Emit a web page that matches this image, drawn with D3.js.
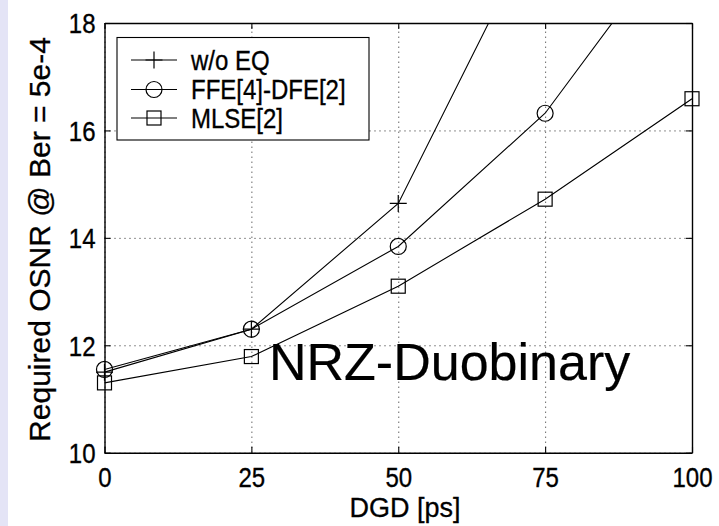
<!DOCTYPE html>
<html>
<head>
<meta charset="utf-8">
<script src="https://cdn.jsdelivr.net/npm/d3@7/dist/d3.min.js"></script>
<style>
  html, body { margin: 0; padding: 0; background: #fff; }
  svg { display: block; }
  text { font-family: "Liberation Sans", Arial, sans-serif; fill: #000; stroke: #000; stroke-width: 0.3px; }
</style>
</head>
<body>
<svg id="chart" width="719" height="526"></svg>
<script>
// ---- data ----
const dgd = [0, 25, 50, 75, 100];
const woEQ = [11.5, 12.3, 14.64, 20.1, null];
const ffeDfe = [11.55, 12.3, 13.84, 16.32, 20.0];
const mlse = [11.3, 11.79, 13.1, 14.72, 16.59];
const seriesNames = ["w/o EQ", "FFE[4]-DFE[2]", "MLSE[2]"];
const markerTypes = ["plus", "circle", "square"];
const xTicks = [0, 25, 50, 75, 100];
const yTicks = [10, 12, 14, 16, 18];
const xLabel = "DGD [ps]";
const yLabel = "Required OSNR @ Ber = 5e-4";
const annotation = "NRZ-Duobinary";

// ---- layout ----
const W = 719, H = 526;
const L = 104.5, R = 692, T = 23, B = 452.7;
const svg = d3.select("#chart");
const stretch = 1.13;

svg.append("rect").attr("x", 0).attr("y", 0).attr("width", 8).attr("height", H).attr("fill", "#e4e4f6");

const x = d3.scaleLinear().domain([0, 100]).range([L, R]);
const y = d3.scaleLinear().domain([10, 18]).range([B, T]);

// grid
const grid = svg.append("g");
grid.append("g").attr("transform", `translate(0,${B})`)
  .call(d3.axisBottom(x).tickValues(xTicks).tickSize(-(B - T)).tickFormat(""))
  .call(g => g.select(".domain").remove());
grid.append("g").attr("transform", `translate(${L},0)`)
  .call(d3.axisLeft(y).tickValues(yTicks).tickSize(-(R - L)).tickFormat(""))
  .call(g => g.select(".domain").remove());
grid.selectAll("line").attr("stroke", "#222").attr("stroke-width", 1).attr("stroke-dasharray", "1,4");

// axes box with inward ticks
const axes = svg.append("g");
const ax1 = axes.append("g").attr("transform", `translate(0,${B})`)
  .call(d3.axisBottom(x).tickValues(xTicks).tickSizeInner(-6).tickSizeOuter(0).tickFormat(d3.format("d")));
const ax2 = axes.append("g").attr("transform", `translate(0,${T})`)
  .call(d3.axisTop(x).tickValues(xTicks).tickSizeInner(-6).tickSizeOuter(0).tickFormat(""));
const ax3 = axes.append("g").attr("transform", `translate(${L},0)`)
  .call(d3.axisLeft(y).tickValues(yTicks).tickSizeInner(-6).tickSizeOuter(0).tickFormat(d3.format("d")));
const ax4 = axes.append("g").attr("transform", `translate(${R},0)`)
  .call(d3.axisRight(y).tickValues(yTicks).tickSizeInner(-6).tickSizeOuter(0).tickFormat(""));
axes.selectAll(".domain").attr("stroke", "#000").attr("stroke-width", 1.4);
axes.selectAll(".tick line").attr("stroke", "#000").attr("stroke-width", 1.1);
axes.selectAll("text").style("font-family", "'Liberation Sans', Arial, sans-serif").attr("font-size", 24).attr("fill", "#000");
ax1.selectAll("text").attr("y", 34.5 / stretch).attr("dy", 0).attr("transform", `scale(1,${stretch})`);
ax3.selectAll("text").attr("x", -9).attr("dy", "0.36em").attr("transform", `scale(1,${stretch})`);

// series
const seriesData = [woEQ, ffeDfe, mlse];
svg.append("defs").append("clipPath").attr("id", "clip")
  .append("rect").attr("x", L).attr("y", T).attr("width", R - L).attr("height", B - T);
const plot = svg.append("g").attr("clip-path", "url(#clip)");
const marks = svg.append("g");
const line = d3.line().defined(d => d[1] != null).x(d => x(d[0])).y(d => y(d[1]));

function drawMarker(g, type, cx, cy) {
  if (type === "plus") {
    g.append("path").attr("d", `M${cx - 8.5},${cy}H${cx + 8.5}M${cx},${cy - 8.5}V${cy + 8.5}`)
      .attr("stroke", "#000").attr("stroke-width", 1.2).attr("fill", "none");
  } else if (type === "circle") {
    g.append("circle").attr("cx", cx).attr("cy", cy).attr("r", 8)
      .attr("stroke", "#000").attr("stroke-width", 1.2).attr("fill", "none");
  } else {
    g.append("rect").attr("x", cx - 7).attr("y", cy - 7).attr("width", 14).attr("height", 14)
      .attr("stroke", "#000").attr("stroke-width", 1.2).attr("fill", "none");
  }
}

const [yMin, yMax] = y.domain();
seriesData.forEach((vals, i) => {
  const pts = dgd.map((d, j) => [d, vals[j]]);
  plot.append("path").datum(pts).attr("d", line)
    .attr("fill", "none").attr("stroke", "#000").attr("stroke-width", 1.1);
  pts.filter(p => p[1] != null && p[1] >= yMin && p[1] <= yMax)
    .forEach(p => drawMarker(marks, markerTypes[i], x(p[0]), y(p[1])));
});

// labels
svg.append("text").attr("x", 405).attr("y", 517).attr("text-anchor", "middle")
  .attr("font-size", 27).text(xLabel);
svg.append("text").attr("transform", "translate(50,239.5) rotate(-90)").attr("text-anchor", "middle")
  .attr("font-size", 30).text(yLabel);
svg.append("text").attr("x", 269).attr("y", 380).attr("font-size", 52).style("stroke-width", "0.2px").text(annotation);

// legend
const lg = svg.append("g");
lg.append("rect").attr("x", 117).attr("y", 37.5).attr("width", 252).attr("height", 102.5)
  .attr("fill", "#fff").attr("stroke", "#000").attr("stroke-width", 1.1);
const rowY = [60, 89.5, 118];
seriesNames.forEach((name, i) => {
  const cy = rowY[i];
  lg.append("line").attr("x1", 131).attr("x2", 177).attr("y1", cy).attr("y2", cy)
    .attr("stroke", "#000").attr("stroke-width", 1.1);
  drawMarker(lg, markerTypes[i], 154, cy);
  lg.append("text").attr("transform", `translate(191,${cy}) scale(1,${stretch})`)
    .attr("dy", "0.36em").attr("font-size", 24).text(name);
});
</script>
</body>
</html>
